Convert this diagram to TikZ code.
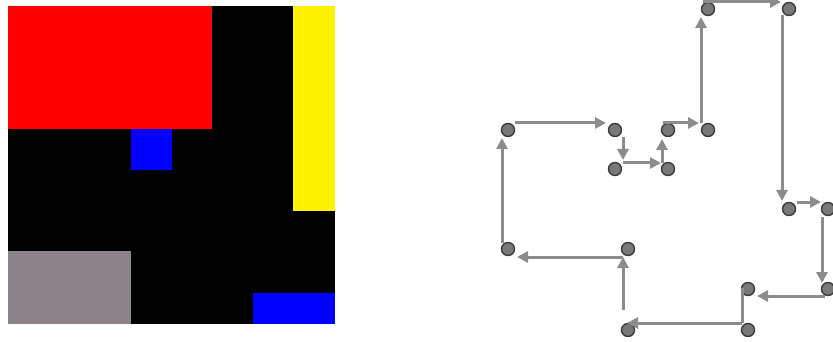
\documentclass[tikz,border=0pt]{standalone}
\usetikzlibrary{arrows.meta}
\definecolor{arrgray}{RGB}{140,140,140}
\definecolor{nodefill}{RGB}{120,120,120}
\definecolor{nodeline}{RGB}{60,60,60}
\definecolor{pinkgray}{RGB}{138,132,138}
\tikzset{
  pt/.style={circle,draw=nodeline,fill=nodefill,line width=1.4pt,minimum size=13pt,inner sep=0pt},
  arr/.style={draw=arrgray,line width=3pt,-{Triangle[length=11pt,width=11pt]}},
  seg/.style={draw=arrgray,line width=3pt},
}
\begin{document}
\begin{tikzpicture}[x=1pt,y=-1pt]
\useasboundingbox (0,0) rectangle (833,342);
% left grid picture
\fill[black] (8,6) rectangle (335,324);
\fill[red] (8,6) rectangle (212,129);
\fill[blue] (131,129) rectangle (172,170);
\fill[yellow] (293,6) rectangle (335,211);
\fill[pinkgray] (8,251) rectangle (131,324);
\fill[blue] (253,293) rectangle (335,324);
% nodes
\node[pt] (A) at (708,9) {};
\node[pt] (B) at (789,9) {};
\node[pt] (C) at (508,130) {};
\node[pt] (D) at (615,130) {};
\node[pt] (E) at (668,130) {};
\node[pt] (F) at (708,130) {};
\node[pt] (G) at (615,169) {};
\node[pt] (H) at (668,169) {};
\node[pt] (I) at (789,209) {};
\node[pt] (J) at (828,209) {};
\node[pt] (K) at (508,249) {};
\node[pt] (L) at (628,249) {};
\node[pt] (M) at (748,289) {};
\node[pt] (N) at (828,289) {};
\node[pt] (O) at (628,330) {};
\node[pt] (P) at (748,330) {};
% connectors
\draw[arr] ([shift={(7,-7)}]C.center) -- ([shift={(-9,-7)}]D.center);
\draw[arr] ([shift={(8,7)}]D.center) -- ([shift={(8,-9)}]G.center);
\draw[arr] ([shift={(8,-6)}]G.center) -- ([shift={(-7,-6)}]H.center);
\draw[arr] ([shift={(-6,-6)}]H.center) -- ([shift={(-6,9)}]E.center);
\draw[arr] ([shift={(-5,-7)}]E.center) -- ([shift={(-9,-7)}]F.center);
\draw[arr] ([shift={(-7,-7)}]F.center) -- ([shift={(-7,8)}]A.center);
\draw[arr] ([shift={(-5,-7)}]A.center) -- ([shift={(-8,-7)}]B.center);
\draw[arr] ([shift={(-7,6)}]B.center) -- ([shift={(-7,-8)}]I.center);
\draw[arr] ([shift={(8,-7)}]I.center) -- ([shift={(-7,-7)}]J.center);
\draw[arr] ([shift={(-6,8)}]J.center) -- ([shift={(-6,-6)}]N.center);
\draw[arr] ([shift={(-3,7)}]N.center) -- ([shift={(9,7)}]M.center);
\draw[seg] ([shift={(-6,-1)}]M.center) -- ([shift={(-6,-7)}]P.center);
\draw[arr] ([shift={(-6,-7)}]P.center) -- ([shift={(-1,-7)}]O.center);
\draw[arr] ([shift={(-5,-20)}]O.center) -- ([shift={(-5,8)}]L.center);
\draw[arr] ([shift={(-5,8)}]L.center) -- ([shift={(9,8)}]K.center);
\draw[arr] ([shift={(-6,-6)}]K.center) -- ([shift={(-6,8)}]C.center);
\end{tikzpicture}
\end{document}
